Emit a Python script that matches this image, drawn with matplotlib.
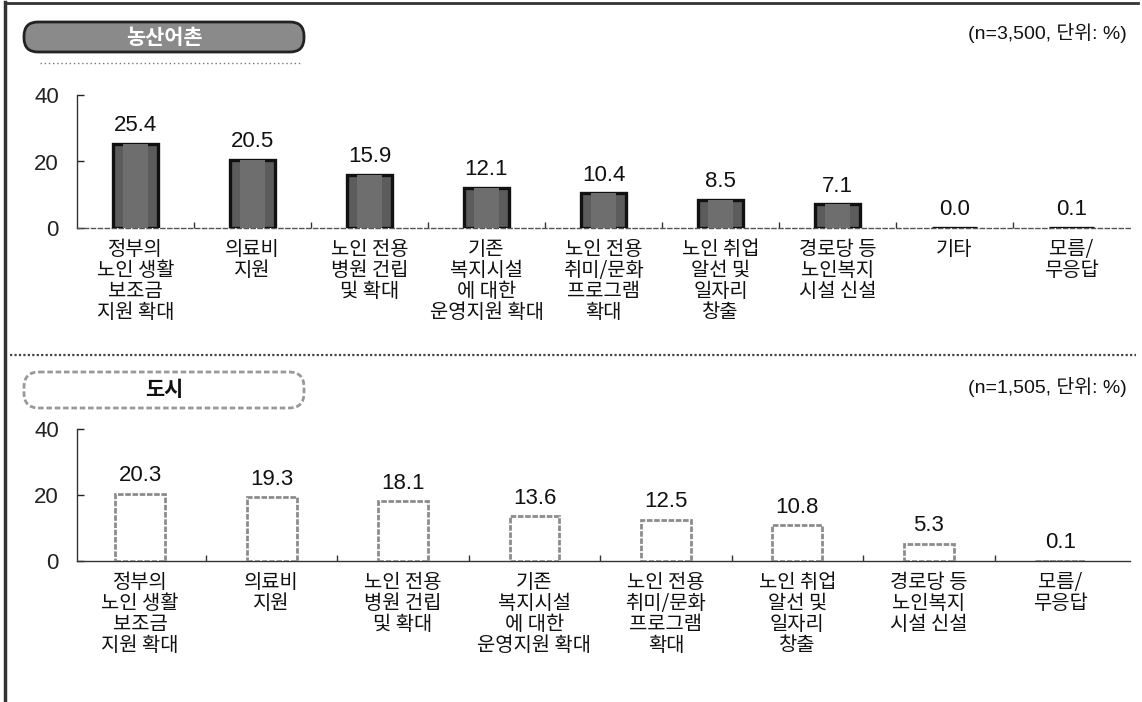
import matplotlib
matplotlib.use("Agg")
import matplotlib.pyplot as plt
from matplotlib.patches import FancyBboxPatch
import numpy as np

plt.rcParams['font.family'] = ['Noto Sans CJK KR', 'DejaVu Sans']

# ---- data ----
rural_categories = ["정부의\n노인 생활\n보조금\n지원 확대", "의료비\n지원", "노인 전용\n병원 건립\n및 확대",
                    "기존\n복지시설\n에 대한\n운영지원 확대", "노인 전용\n취미/문화\n프로그램\n확대",
                    "노인 취업\n알선 및\n일자리\n창출", "경로당 등\n노인복지\n시설 신설", "기타", "모름/\n무응답"]
rural_values = [25.4, 20.5, 15.9, 12.1, 10.4, 8.5, 7.1, 0.0, 0.1]

urban_categories = ["정부의\n노인 생활\n보조금\n지원 확대", "의료비\n지원", "노인 전용\n병원 건립\n및 확대",
                    "기존\n복지시설\n에 대한\n운영지원 확대", "노인 전용\n취미/문화\n프로그램\n확대",
                    "노인 취업\n알선 및\n일자리\n창출", "경로당 등\n노인복지\n시설 신설", "모름/\n무응답"]
urban_values = [20.3, 19.3, 18.1, 13.6, 12.5, 10.8, 5.3, 0.1]

y_ticks = [0, 20, 40]
rural_title = "농산어촌"
urban_title = "도시"
rural_note = "(n=3,500, 단위: %)"
urban_note = "(n=1,505, 단위: %)"

W, H = 1142, 702
fig = plt.figure(figsize=(W / 100, H / 100), dpi=100)
NUM_FONT = ['Liberation Sans', 'Noto Sans CJK KR', 'DejaVu Sans']


def px_axes(x0, y_top, x1, y_bot):
    return fig.add_axes([x0 / W, 1 - y_bot / H, (x1 - x0) / W, (y_bot - y_top) / H])


def panel(ax, cats, vals, dark):
    x = np.arange(len(cats))
    if dark:
        ax.bar(x, vals, width=0.385, color='#5c5c5c', edgecolor='#111111', linewidth=2.4, zorder=3)
        ax.bar(x, vals, width=0.22, color='#6e6e6e', edgecolor='none', linewidth=0, zorder=4)
    else:
        ax.bar(x, vals, width=0.38, color='white', edgecolor='#8c8c8c', linewidth=2.0,
               linestyle=(0, (2, 0.6)), zorder=3)
    for xi, v in zip(x, vals):
        ax.text(xi, v + 2.3, f"{v:.1f}", ha='center', va='bottom', fontsize=16,
                family=NUM_FONT, color='#111111')
    ax.set_ylim(0, 40)
    ax.set_yticks(y_ticks)
    ax.set_yticklabels([str(t) for t in y_ticks], fontsize=16, family=NUM_FONT)
    ax.tick_params(axis='y', direction='in', length=5, width=1, pad=13, colors='#222222')
    ax.set_xticks(x)
    ax.set_xticklabels(cats, fontsize=14.3, linespacing=1.0, color='#111111')
    ax.tick_params(axis='x', length=0, pad=8)
    ax.set_xticks(x[:-1] + 0.5, minor=True)
    ax.tick_params(axis='x', which='minor', direction='in', length=4, width=1, colors='#333333')
    for s in ['top', 'right']:
        ax.spines[s].set_visible(False)
    ax.spines['left'].set_color('#333333')
    ax.spines['left'].set_linewidth(1.0)
    if dark:
        ax.spines['bottom'].set_linestyle((0, (3, 2)))
        ax.spines['bottom'].set_color('#555555')
    else:
        ax.spines['bottom'].set_color('#333333')
    ax.spines['bottom'].set_linewidth(1.0)
    ax.set_facecolor('none')


# top panel: 9 categories
ax1 = px_axes(77, 95, 1130, 228)
n1 = len(rural_categories)
panel(ax1, rural_categories, rural_values, True)
ax1.set_xlim(-0.5, n1 - 0.5)

# bottom panel: 8 categories
ax2 = px_axes(77, 429, 1130, 561)
n2 = len(urban_categories)
panel(ax2, urban_categories, urban_values, False)
ax2.set_xlim(-0.48, n2 - 0.47)

# overlay for decorations
ov = fig.add_axes([0, 0, 1, 1], zorder=-1)
ov.set_xlim(0, W)
ov.set_ylim(H, 0)
ov.axis('off')
ov.plot([5, 5], [2, H], color='#333333', lw=2.5)
ov.plot([5, 1138], [3, 3], color='#333333', lw=2.0)
ov.plot([10, 1136], [355, 355], color='#444444', lw=1.6, linestyle=(0, (1, 1)))

p1 = FancyBboxPatch((24, 22), 280, 30, boxstyle="round,pad=0,rounding_size=14",
                    facecolor='#8a8a8a', edgecolor='#222222', linewidth=2)
ov.add_patch(p1)
ov.plot([40, 300], [63, 63], color='#777777', lw=1, linestyle=(0, (1, 2)))
ov.text(164, 37.5, rural_title, ha='center', va='center', fontsize=15, color='white', fontweight='bold')
p2 = FancyBboxPatch((24, 372), 280, 36, boxstyle="round,pad=0,rounding_size=15",
                    facecolor='white', edgecolor='#999999', linewidth=2, linestyle=(0, (2, 1)))
ov.add_patch(p2)
ov.text(164, 390, urban_title, ha='center', va='center', fontsize=15, color='#111111', fontweight='bold')

ov.text(1127, 33, rural_note, ha='right', va='center', fontsize=14, color='#111111', family=NUM_FONT)
ov.text(1127, 387, urban_note, ha='right', va='center', fontsize=14, color='#111111', family=NUM_FONT)

fig.savefig("out.png", dpi=100, facecolor='white')
